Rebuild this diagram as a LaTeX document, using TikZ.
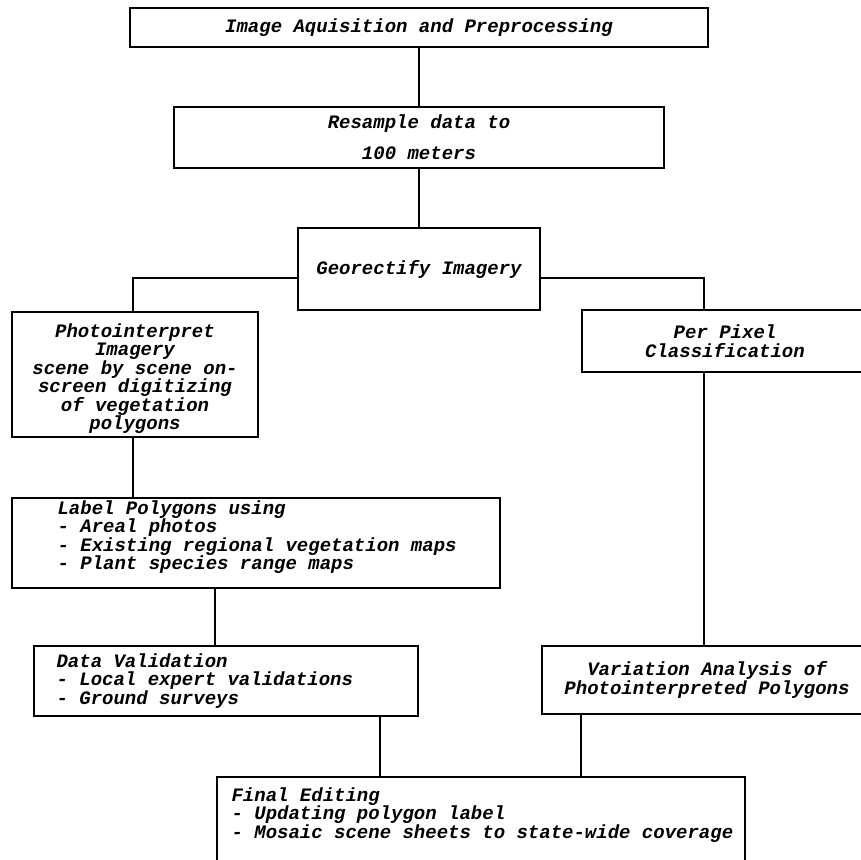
\documentclass[tikz,border=0pt]{standalone}
\usepackage{fontspec}
\newfontfamily\courfont{Liberation Mono}
\tikzset{
  box/.style={draw, line width=1.3pt, inner sep=0pt, align=center,
    font=\courfont\bfseries\itshape\fontsize{19}{18.5}\selectfont},
  frame/.style={draw, line width=1.3pt, inner sep=0pt},
  txt/.style={inner sep=0pt, align=left,
    font=\courfont\bfseries\itshape\fontsize{19}{18.5}\selectfont},
  conn/.style={line width=1.3pt},
}
\begin{document}
\begin{tikzpicture}[x=1pt,y=-1pt]
\useasboundingbox (0,0) rectangle (861,859);
% boxes
\node[box, minimum width=578pt, minimum height=39pt] (acq) at (419,27.5) {Image Aquisition and Preprocessing};
\node[box, minimum width=490pt, minimum height=61pt,
  font=\courfont\bfseries\itshape\fontsize{19}{31}\selectfont] (res) at (419,137.5) {Resample data to\\100 meters};
\node[box, minimum width=242pt, minimum height=82pt] (geo) at (419,269) {Georectify Imagery};
\node[frame, minimum width=246pt, minimum height=125pt] (photo) at (135,374.5) {};
\node[txt, align=center] (phototxt) at ([yshift=-4pt]photo.center)
  {Photointerpret\\Imagery\\scene by scene on-\\screen digitizing\\of vegetation\\polygons};
\node[box, minimum width=286pt, minimum height=62pt] (pix) at (725,341) {Per Pixel\\Classification};
\node[frame, minimum width=488pt, minimum height=90pt] (label) at (256,543) {};
\node[txt, anchor=west] (labeltxt) at ([xshift=46pt,yshift=6pt]label.west)
  {Label Polygons using\\- Areal photos\\- Existing regional vegetation maps\\- Plant species range maps};
\node[frame, minimum width=384pt, minimum height=70pt] (val) at (226,681) {};
\node[txt, anchor=west] (valtxt) at ([xshift=23pt]val.west)
  {Data Validation\\- Local expert validations\\- Ground surveys};
\node[box, minimum width=330pt, minimum height=68pt] (var) at (707,680) {Variation Analysis of\\Photointerpreted Polygons};
\node[frame, minimum width=528pt, minimum height=128pt] (fin) at (481,841) {};
\node[txt, anchor=west] (fintxt) at ([xshift=15pt,yshift=26pt]fin.west)
  {Final Editing\\- Updating polygon label\\- Mosaic scene sheets to state-wide coverage};
% connector positions
\coordinate (xl) at (133,278);
\coordinate (xr) at (704,278);
\coordinate (xv) at (215,0);
\coordinate (xa) at (380,0);
\coordinate (xb) at (581,0);
% connectors
\draw[conn] (acq.south) -- (acq.south |- res.north);
\draw[conn] (res.south) -- (res.south |- geo.north);
\draw[conn] (geo.west |- xl) -- (xl) -- (xl |- photo.north);
\draw[conn] (geo.east |- xr) -- (xr) -- (xr |- pix.north);
\draw[conn] (xl |- photo.south) -- (xl |- label.north);
\draw[conn] (xv |- label.south) -- (xv |- val.north);
\draw[conn] (xr |- pix.south) -- (xr |- var.north);
\draw[conn] (xa |- val.south) -- (xa |- fin.north);
\draw[conn] (xb |- var.south) -- (xb |- fin.north);
\end{tikzpicture}
\end{document}
